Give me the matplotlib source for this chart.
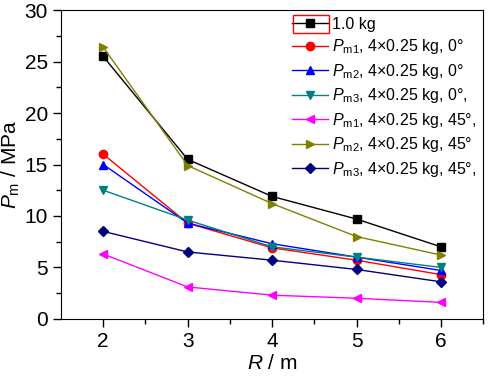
import matplotlib.pyplot as plt
from matplotlib.patches import Rectangle

plt.rcParams['font.family'] = ['Liberation Sans', 'DejaVu Sans']
plt.rcParams['mathtext.fontset'] = 'custom'
plt.rcParams['mathtext.rm'] = 'Liberation Sans'
plt.rcParams['mathtext.it'] = 'Liberation Sans:italic'

R = [2, 3, 4, 5, 6]
p_1kg = [25.5, 15.5, 11.9, 9.7, 7.0]
pm1_0 = [16.0, 9.3, 6.9, 5.7, 4.3]
pm2_0 = [15.0, 9.3, 7.3, 6.0, 4.7]
pm3_0 = [12.5, 9.6, 7.0, 6.0, 5.0]
pm1_45 = [6.3, 3.1, 2.3, 2.0, 1.6]
pm2_45 = [26.4, 14.9, 11.2, 8.0, 6.2]
pm3_45 = [8.5, 6.5, 5.7, 4.8, 3.6]

series = [
    (p_1kg, '1.0 kg', 'black', 's'),
    (pm1_0, r'$P_{\rm m1}$, 4×0.25 kg, 0°', 'red', 'o'),
    (pm2_0, r'$P_{\rm m2}$, 4×0.25 kg, 0°', 'blue', '^'),
    (pm3_0, r'$P_{\rm m3}$, 4×0.25 kg, 0°,', '#008080', 'v'),
    (pm1_45, r'$P_{\rm m1}$, 4×0.25 kg, 45°,', 'magenta', '<'),
    (pm2_45, r'$P_{\rm m2}$, 4×0.25 kg, 45°', '#808000', '>'),
    (pm3_45, r'$P_{\rm m3}$, 4×0.25 kg, 45°,', '#000080', 'D'),
]

fig = plt.figure(figsize=(4.92, 3.76), dpi=100)
ax = fig.add_axes([0.124, 0.152, 0.858, 0.821])

for y, lab, col, mk in series:
    ms = 5 if mk == 'D' else 6
    ax.plot(R, y, color=col, marker=mk, markersize=ms, linewidth=1.0, label=lab)

ax.set_xlim(1.5, 6.5)
ax.set_ylim(0, 30)
ax.set_xticks([2, 3, 4, 5, 6])
ax.set_xticks([2.5, 3.5, 4.5, 5.5, 6.5], minor=True)
ax.set_yticks([0, 5, 10, 15, 20, 25, 30])
ax.set_yticks([2.5, 7.5, 12.5, 17.5, 22.5, 27.5], minor=True)
ax.tick_params(which='major', direction='out', length=6, width=1, labelsize=15)
ax.tick_params(which='minor', direction='out', length=3.5, width=1)
ax.set_xlabel(r'$R$ / m', fontsize=15, labelpad=2)
ax.set_ylabel(r'$P_{\rm m}$ / MPa', fontsize=15, labelpad=2)

leg = ax.legend(loc='upper right', fontsize=11.5, frameon=True, fancybox=False,
                edgecolor='none', facecolor='white', framealpha=1,
                handlelength=2.2, handletextpad=0.3, labelspacing=0.35,
                borderaxespad=0.1, borderpad=0.3)

# red box around the first legend handle
fig.canvas.draw()
r = fig.canvas.get_renderer()
tb = leg.get_texts()[0].get_window_extent(r)
x1 = tb.x0 - 3
x0 = x1 - 36
yc = (tb.y0 + tb.y1) / 2
fig.add_artist(Rectangle((x0, yc - 9), x1 - x0, 18,
                         transform=None, fill=False,
                         edgecolor='red', linewidth=1))

fig.savefig('out.png', dpi=100)
